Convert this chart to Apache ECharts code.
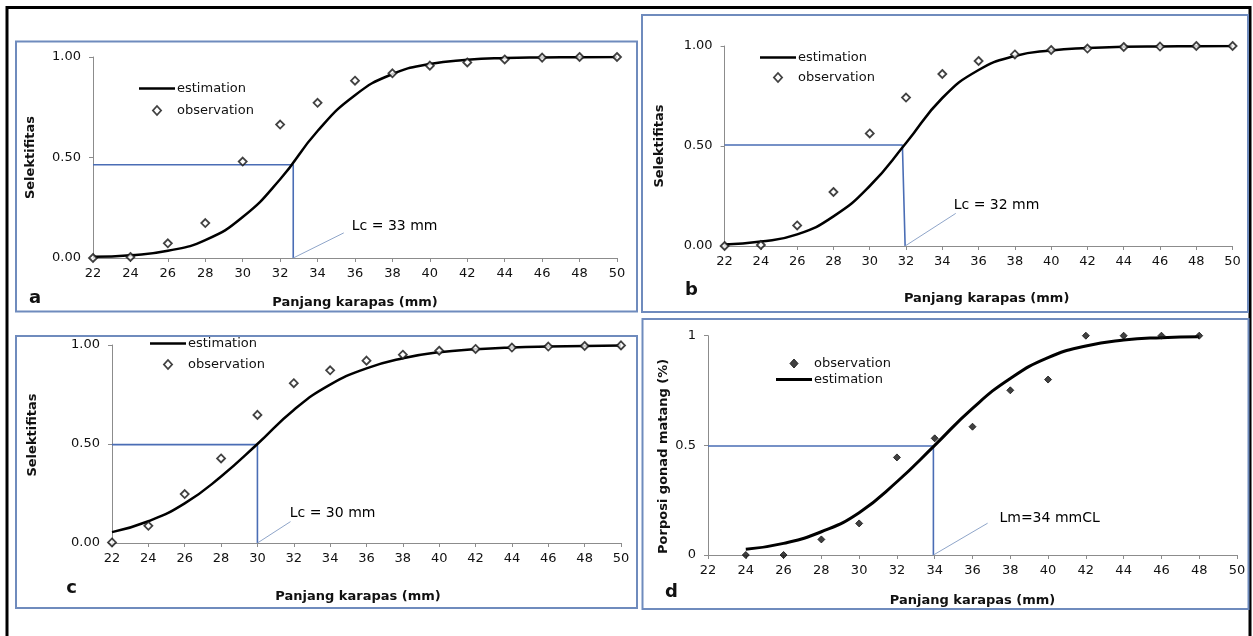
<!DOCTYPE html>
<html>
<head>
<meta charset="utf-8">
<script src="https://cdn.jsdelivr.net/npm/echarts@6/dist/echarts.min.js"></script>
<style>
  html, body { margin: 0; padding: 0; background: #fff; }
  #chart { width: 1253px; height: 636px; }
</style>
</head>
<body>
<div id="chart"></div>
<script>
// ---------- data ----------
const lengthABC = [22, 24, 26, 28, 30, 32, 34, 36, 38, 40, 42, 44, 46, 48, 50];
const lengthD = [24, 26, 28, 30, 32, 34, 36, 38, 40, 42, 44, 46, 48];

const obsA = [0.0, 0.005, 0.073, 0.174, 0.48, 0.664, 0.772, 0.882, 0.919, 0.957, 0.973, 0.988, 0.997, 1.0, 1.0];
const estA = [0.006, 0.014, 0.036, 0.089, 0.204, 0.392, 0.632, 0.81, 0.915, 0.965, 0.986, 0.995, 0.998, 0.999, 1.0];

const obsB = [0.0, 0.005, 0.103, 0.27, 0.563, 0.742, 0.86, 0.925, 0.958, 0.98, 0.987, 0.995, 0.997, 1.0, 1.0];
const estB = [0.008, 0.022, 0.058, 0.148, 0.3, 0.515, 0.74, 0.88, 0.95, 0.978, 0.99, 0.996, 0.998, 0.999, 1.0];

const obsC = [0.003, 0.087, 0.247, 0.427, 0.647, 0.807, 0.872, 0.921, 0.951, 0.971, 0.98, 0.987, 0.992, 0.995, 0.998];
const estC = [0.055, 0.11, 0.2, 0.336, 0.5, 0.672, 0.8, 0.882, 0.933, 0.963, 0.978, 0.987, 0.992, 0.995, 0.998];

const obsD = [0.0, 0.0, 0.071, 0.144, 0.445, 0.532, 0.585, 0.751, 0.8, 1.0, 1.0, 1.0, 1.0];
const estD = [0.026, 0.053, 0.106, 0.193, 0.334, 0.5, 0.669, 0.805, 0.9, 0.953, 0.98, 0.991, 0.995];

const xTicks = { min: 22, max: 50, step: 2 };
const yTicksABC = [0, 0.5, 1];
const yTicksD = [0, 0.5, 1];

// reference (L50) lines: [xTop, xBottom, yLevel]
const refA = [32.7, 32.7, 0.464];
const refB = [31.8, 31.95, 0.505];
const refC = [30.0, 30.0, 0.497];
const refD = [33.93, 33.93, 0.497];

// leader lines end point and annotation text
const leadA = [35.4, 0.125], noteA = [35.8, 0.155], textA = 'Lc = 33 mm';
const leadB = [34.74, 0.163], noteB = [34.6, 0.205], textB = 'Lc = 32 mm';
const leadC = [31.82, 0.108], noteC = [31.75, 0.15], textC = 'Lc = 30 mm';
const leadD = [36.8, 0.145], noteD = [37.4, 0.167], textD = 'Lm=34 mmCL';

const xTitle = 'Panjang karapas (mm)';
const yTitleABC = 'Selektifitas';
const yTitleD = 'Porposi gonad matang (%)';

// ---------- build ----------
const FONT = 'DejaVu Sans';
const AXIS_COLOR = '#8c8c8c';
const REF_COLOR = '#4a6db5';
const LEAD_COLOR = '#8fa5c9';
const BOX_COLOR = '#6f8bbd';
const TEXT_COLOR = '#111';

const pair = (xs, ys) => xs.map((x, i) => [x, ys[i]]);

const grids = [
  { left: 93, top: 57, width: 524, height: 201 },
  { left: 724.6, top: 46, width: 508, height: 200 },
  { left: 112, top: 345, width: 509, height: 198 },
  { left: 708, top: 335.7, width: 529, height: 219.3 }
];

function xAxisCfg(idx, gap, pad) {
  return {
    gridIndex: idx, type: 'value', min: xTicks.min, max: xTicks.max, interval: xTicks.step,
    name: xTitle, nameLocation: 'middle', nameGap: gap,
    nameTextStyle: { fontFamily: FONT, fontWeight: 'bold', fontSize: 13, color: TEXT_COLOR, padding: pad },
    axisLine: { show: true, lineStyle: { color: AXIS_COLOR, width: 1 } },
    axisTick: { show: true, length: 4, lineStyle: { color: AXIS_COLOR } },
    axisLabel: { fontFamily: FONT, fontSize: 13, color: TEXT_COLOR, margin: 9 },
    splitLine: { show: false }
  };
}
function yAxisCfg(idx, ticks, name, gap, pad, fmt) {
  return {
    gridIndex: idx, type: 'value', min: ticks[0], max: ticks[ticks.length - 1], interval: ticks[1] - ticks[0],
    name: name, nameLocation: 'middle', nameGap: gap, nameRotate: 90,
    nameTextStyle: { fontFamily: FONT, fontWeight: 'bold', fontSize: 13, color: TEXT_COLOR, padding: pad },
    axisLine: { show: true, lineStyle: { color: AXIS_COLOR, width: 1 } },
    axisTick: { show: true, length: 4, lineStyle: { color: AXIS_COLOR } },
    axisLabel: { fontFamily: FONT, fontSize: 13, color: TEXT_COLOR, margin: 12, formatter: fmt },
    splitLine: { show: false }
  };
}
const fmt2 = v => v.toFixed(2);
const fmtD = v => String(v);

const HOLLOW = { color: '#fff', borderColor: '#111', borderWidth: 1.8 };
const FILLED = { color: '#111', borderColor: '#111', borderWidth: 1 };

function panelSeries(idx, xs, est, obs, ref, lead, note, text, filled, estWidth) {
  return [
    {
      name: 'estimation', type: 'line', xAxisIndex: idx, yAxisIndex: idx,
      data: pair(xs, est), smooth: 0.5, symbol: 'none', showSymbol: false,
      lineStyle: { color: '#000', width: estWidth }, itemStyle: { color: '#000' }, z: 3, silent: true
    },
    {
      name: 'observation', type: 'scatter', xAxisIndex: idx, yAxisIndex: idx,
      data: pair(xs, obs), symbol: 'diamond', symbolSize: filled ? 7 : 8,
      itemStyle: filled ? FILLED : HOLLOW, z: 4, silent: true
    },
    {
      name: 'ref' + idx, type: 'line', xAxisIndex: idx, yAxisIndex: idx,
      data: [[ref[1], 0], [ref[0], ref[2]], [xTicks.min, ref[2]]],
      symbol: 'none', lineStyle: { color: REF_COLOR, width: 1.6 }, z: 2, silent: true
    },
    {
      name: 'lead' + idx, type: 'line', xAxisIndex: idx, yAxisIndex: idx,
      data: [[ref[1], 0], lead],
      symbol: 'none', lineStyle: { color: LEAD_COLOR, width: 1 }, z: 2, silent: true
    },
    {
      name: 'note' + idx, type: 'scatter', xAxisIndex: idx, yAxisIndex: idx,
      data: [note], symbol: 'circle', symbolSize: 1, itemStyle: { color: '#fff', opacity: 1 },
      label: { show: true, position: 'right', distance: 0, formatter: text,
               fontFamily: FONT, fontSize: 14, color: '#000', opacity: 1 },
      z: 5, silent: true
    }
  ];
}

const DIAMOND_ICON = 'path://M5,0 L10,5.5 L5,11 L0,5.5 Z';

function legendCfg(left, top, gap, order, filled, lineW) {
  return {
    orient: 'vertical', left: left, top: top, padding: 0, itemGap: gap, itemWidth: 36, itemHeight: 9,
    selectedMode: false, symbolKeepAspect: true,
    textStyle: { fontFamily: FONT, fontSize: 13, color: TEXT_COLOR, padding: [0, 0, 0, -3] },
    data: order.map(n => n === 'observation'
      ? { name: n, icon: DIAMOND_ICON, itemStyle: filled ? FILLED : HOLLOW }
      : { name: n, icon: 'path://M0,0 L36,0 L36,' + lineW + ' L0,' + lineW + ' Z',
          itemStyle: { color: '#000', borderWidth: 0 } })
  };
}

const frameW = 3;
const option = {
  backgroundColor: '#fff',
  animation: false,
  textStyle: { fontFamily: FONT },
  grid: grids,
  xAxis: [xAxisCfg(0, 38, [0, 0, 0, 0]), xAxisCfg(1, 46, [0, 0, 0, 16]), xAxisCfg(2, 47, [0, 17, 0, 0]), xAxisCfg(3, 39, [0, 0, 0, 0])],
  yAxis: [
    yAxisCfg(0, yTicksABC, yTitleABC, 56, [0, 0, 0, 0], fmt2),
    yAxisCfg(1, yTicksABC, yTitleABC, 58, [0, 0, 0, 0], fmt2),
    yAxisCfg(2, yTicksABC, yTitleABC, 73, [0, 0, 0, 18], fmt2),
    yAxisCfg(3, yTicksD, yTitleD, 38, [0, 22, 0, 0], fmtD)
  ],
  legend: [
    legendCfg(139, 82, 9, ['estimation', 'observation'], false, 2.6),
    legendCfg(760, 51, 7, ['estimation', 'observation'], false, 2.6),
    legendCfg(150, 337, 8, ['estimation', 'observation'], false, 2.6),
    legendCfg(776, 357, 3, ['observation', 'estimation'], true, 3.2)
  ],
  series: [].concat(
    panelSeries(0, lengthABC, estA, obsA, refA, leadA, noteA, textA, false, 2.5),
    panelSeries(1, lengthABC, estB, obsB, refB, leadB, noteB, textB, false, 2.5),
    panelSeries(2, lengthABC, estC, obsC, refC, leadC, noteC, textC, false, 2.5),
    panelSeries(3, lengthD, estD, obsD, refD, leadD, noteD, textD, true, 3)
  ),
  graphic: [
    { type: 'polyline', shape: { points: [[7, 636], [7, 7.5], [1250, 7.5], [1250, 636]] },
      style: { stroke: '#000', lineWidth: frameW, fill: null }, z: 0 },
    { type: 'rect', shape: { x: 16, y: 41.5, width: 621, height: 270 }, style: { stroke: BOX_COLOR, lineWidth: 2, fill: null }, z: 0 },
    { type: 'rect', shape: { x: 642, y: 15, width: 606, height: 297 }, style: { stroke: BOX_COLOR, lineWidth: 2, fill: null }, z: 0 },
    { type: 'rect', shape: { x: 16, y: 336, width: 621, height: 272 }, style: { stroke: BOX_COLOR, lineWidth: 2, fill: null }, z: 0 },
    { type: 'rect', shape: { x: 642.5, y: 319, width: 606, height: 290 }, style: { stroke: BOX_COLOR, lineWidth: 2, fill: null }, z: 0 },
    { type: 'text', x: 35, y: 298, style: { text: 'a', font: 'bold 18px "DejaVu Sans"', fill: '#111', align: 'center', verticalAlign: 'middle' } },
    { type: 'text', x: 691.5, y: 290, style: { text: 'b', font: 'bold 18px "DejaVu Sans"', fill: '#111', align: 'center', verticalAlign: 'middle' } },
    { type: 'text', x: 71.5, y: 588, style: { text: 'c', font: 'bold 18px "DejaVu Sans"', fill: '#111', align: 'center', verticalAlign: 'middle' } },
    { type: 'text', x: 671.5, y: 592, style: { text: 'd', font: 'bold 18px "DejaVu Sans"', fill: '#111', align: 'center', verticalAlign: 'middle' } }
  ]
};

const chart = echarts.init(document.getElementById('chart'), null, { renderer: 'canvas' });
chart.setOption(option);
</script>
</body>
</html>
